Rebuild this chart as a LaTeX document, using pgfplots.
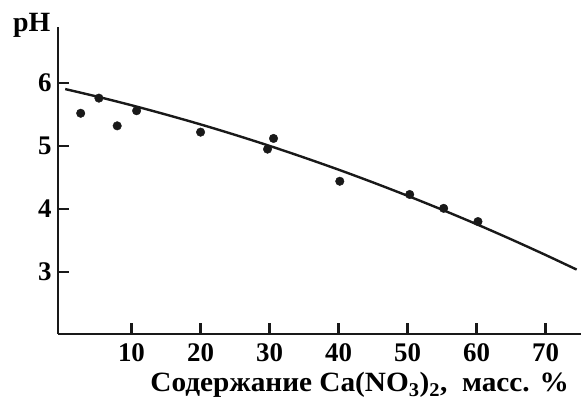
\documentclass[border=0pt]{standalone}
\usepackage{fontspec}
\setmainfont{Liberation Serif}
\usepackage{pgfplots}
\pgfplotsset{compat=1.18}
\begin{document}
\begin{tikzpicture}
\begin{axis}[
  name=ax,
  scale only axis,
  width=523bp, height=307bp,
  xmin=-0.65, xmax=75.1,
  ymin=2.016, ymax=6.89,
  axis x line*=bottom, axis y line*=left,
  axis line style={-, line width=2.4bp, black!90},
  xtick={10,20,30,40,50,60,70},
  ytick={3,4,5,6},
  tick style={line width=2.4bp, black!90},
  tick align=inside,
  major tick length=11bp,
  /pgf/number format/assume math mode=true,
  ticklabel style={font=\bfseries\fontsize{27}{27}\selectfont},
  xticklabel style={yshift=-6bp},
  yticklabel style={xshift=-3bp},
  xlabel={Содержание Ca(NO\textsubscript{3})\textsubscript{2},\ \ масс. \%},
  xlabel style={font=\bfseries\fontsize{28}{28}\selectfont\addfontfeatures{FakeStretch=1.05}, at={(axis description cs:0.577,0)}, anchor=north, yshift=-35bp},
  clip=false,
]
\addplot[black!90, line width=2.4bp, smooth] coordinates {
  (0.4,5.904) (5,5.785) (10,5.647) (15,5.499) (20,5.343) (25,5.177) (30,5.002) (35,4.817) (40,4.624) (45,4.421) (50,4.209) (55,3.988) (60,3.758) (65,3.518) (70,3.269) (74.5,3.037)
};
\addplot[only marks, mark=*, mark size=4.3pt, black!90] coordinates {
  (2.64,5.52) (5.28,5.76) (7.93,5.32) (10.74,5.56) (20.01,5.22) (29.71,4.95) (30.58,5.12) (40.18,4.44) (50.31,4.23) (55.23,4.01) (60.2,3.80)
};
\node[font=\bfseries\fontsize{28}{28}\selectfont, inner sep=0pt] at (axis description cs:-0.05,1.004) {pH};
\end{axis}
\path[use as bounding box] (-58bp,-62bp) rectangle (524bp,334bp);
\end{tikzpicture}
\end{document}
